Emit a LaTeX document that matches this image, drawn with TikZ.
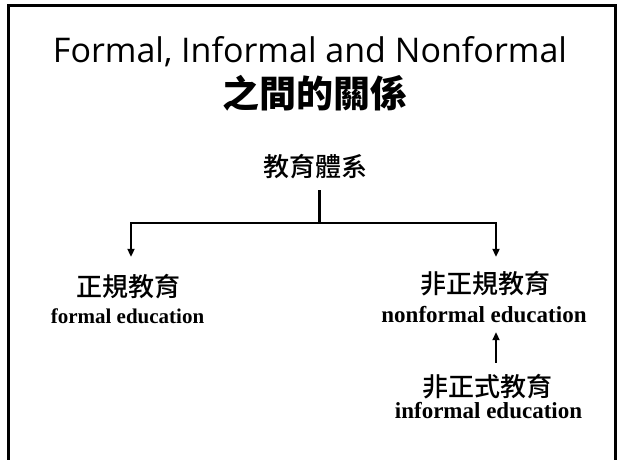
\documentclass[tikz,border=0pt]{standalone}
\usepackage{fontspec}
\setmainfont{Liberation Serif}
\newfontfamily\titlefont{Open Sans}
\newfontfamily\cjk{Noto Sans CJK TC Medium}
\newfontfamily\cjkheavy{Noto Sans CJK TC Black}
\usetikzlibrary{arrows.meta}

\begin{document}
\begin{tikzpicture}[x=1pt,y=-1pt,
    zh/.style={font=\cjk\fontsize{26}{30}\selectfont,inner sep=0pt,
      text height=23pt,text depth=3pt,anchor=base},
    en/.style={font=\bfseries\fontsize{23}{27}\selectfont,inner sep=0pt,
      text height=15pt,text depth=5pt,anchor=base},
    link/.style={line width=3pt},
    arr/.style={line width=2.2pt,-{Triangle[length=8pt,width=7pt]}}]
  \useasboundingbox (0,0) rectangle (621,459);

  % frame of the slide
  \draw[line width=3pt] (8,470) -- (8,5) -- (615,5) -- (615,470);

  % title
  \node[font=\titlefont\fontsize{34}{40}\selectfont,inner sep=0pt,anchor=base]
    (title) at (310,62) {Formal, Informal and Nonformal};
  \node[font=\cjkheavy\fontsize{37}{44}\selectfont,inner sep=0pt,anchor=base]
    (subtitle) at (315,107) {之間的關係};

  % tree
  \node[zh] (sys) at (315.5,176) {教育體系};
  \node[zh] (formzh) at (128.5,296) {正規教育};
  \node[en,font=\bfseries\fontsize{21}{25}\selectfont] (formen) at (127.5,323) {formal education};
  \node[zh] (nonzh) at (485,293) {非正規教育};
  \node[en] (nonen) at (484,322) {nonformal education};
  \node[zh] (infzh) at (487.5,396) {非正式教育};
  \node[en] (infen) at (488.5,418) {informal education};

  \coordinate (fork) at (319,223);
  \coordinate (leftx) at (131,0);
  \coordinate (rightx) at (496,0);

  \draw[link] ([yshift=-11pt]sys.south -| fork) -- (fork);
  \draw[arr] (fork) -| ([yshift=16pt]formzh.north -| leftx);
  \draw[arr] (fork) -| ([yshift=13pt]nonzh.north -| rightx);
  \draw[arr] ([yshift=10pt]infzh.north -| rightx) -- ([yshift=-5pt]nonen.south -| rightx);
\end{tikzpicture}
\end{document}
